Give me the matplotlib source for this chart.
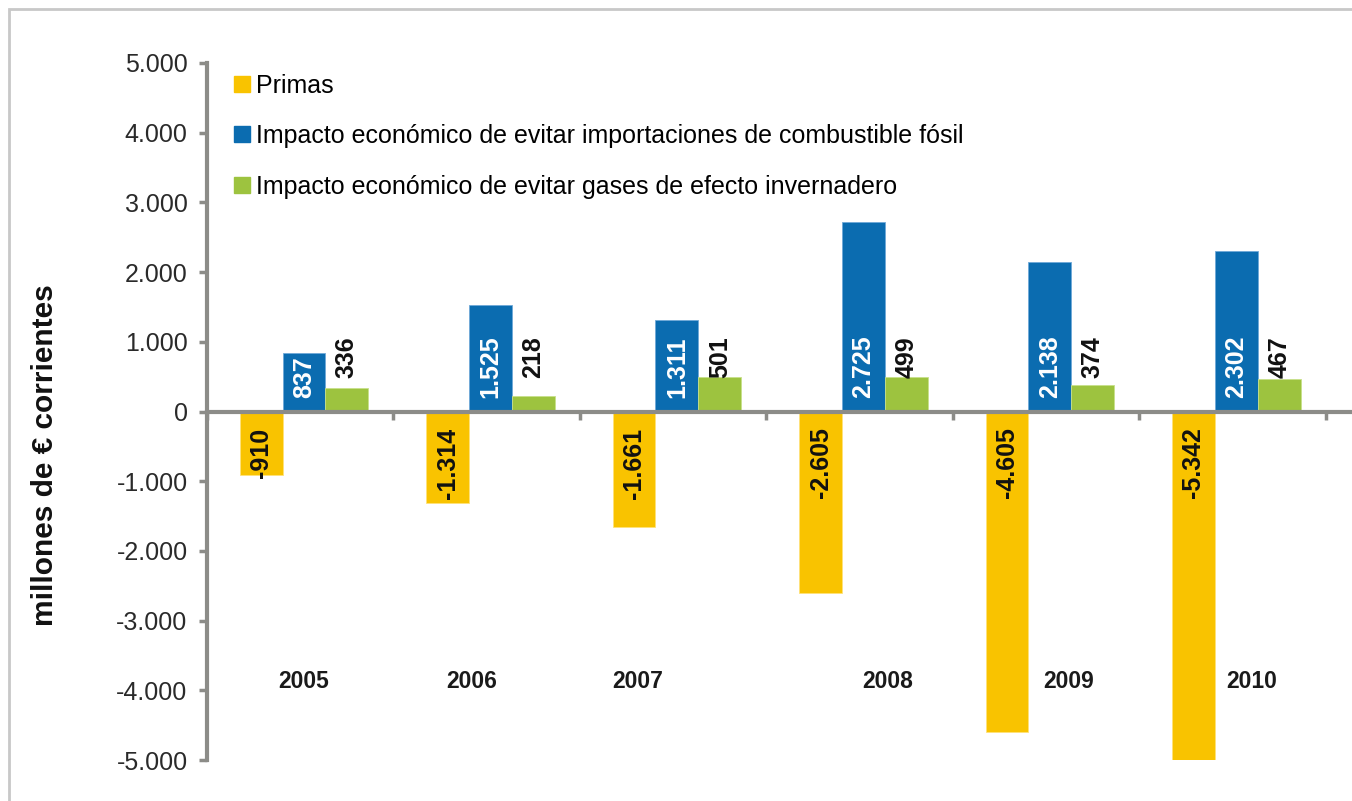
import matplotlib
matplotlib.use("Agg")
import matplotlib.pyplot as plt
from matplotlib.lines import Line2D
from matplotlib.patches import Rectangle
from matplotlib.ticker import FuncFormatter
import numpy as np

years = ["2005", "2006", "2007", "2008", "2009", "2010"]
primas = [-910, -1314, -1661, -2605, -4605, -5342]
importaciones = [837, 1525, 1311, 2725, 2138, 2302]
gases = [336, 218, 501, 499, 374, 467]

series_names = [
    "Primas",
    "Impacto económico de evitar importaciones de combustible fósil",
    "Impacto económico de evitar gases de efecto invernadero",
]
colors = ["#F9C300", "#0B6CB0", "#9DC33F"]
axis_gray = "#8C8C88"

# hand placed year captions (x in category units)
year_label_x = [0.52, 1.42, 2.31, 3.65, 4.62, 5.60]
year_label_y = -3870


def es_num(v):
    # Spanish style thousands separator
    s = f"{abs(int(round(v))):,}".replace(",", ".")
    return "-" + s if v < 0 else s


plt.rcParams["font.family"] = ["Liberation Sans", "DejaVu Sans"]

fig = plt.figure(figsize=(13.52, 8.01), dpi=100)
ax = fig.add_axes([207 / 1352, 1 - 760 / 801, 1 - 207 / 1352, (760 - 63) / 801])

x = np.arange(len(years)) + 0.52
w = 0.23
ax.bar(x - w, primas, w, color=colors[0], edgecolor="#FFE27A", linewidth=0.6, zorder=2)
ax.bar(x, importaciones, w, color=colors[1], edgecolor="#6FA8D8", linewidth=0.6, zorder=2)
ax.bar(x + w, gases, w, color=colors[2], edgecolor="#C8E08A", linewidth=0.6, zorder=2)

lab_kw = dict(rotation=90, ha="center", fontsize=18, fontweight="bold", zorder=4)
for i in range(len(years)):
    ax.text(x[i] - w, -230, es_num(primas[i]), va="top", color="#111111", **lab_kw)
    ax.text(x[i], 200, es_num(importaciones[i]), va="bottom", color="white", **lab_kw)
    ax.text(x[i] + w, 480, es_num(gases[i]), va="bottom", color="#111111", **lab_kw)
    ax.text(year_label_x[i], year_label_y, years[i], ha="center", va="center",
            fontsize=16.5, fontweight="bold", color="#1a1a1a")

ax.set_ylim(-5000, 5000)
ax.set_xlim(0, 6.14)
ax.set_yticks(np.arange(-5000, 5001, 1000))
ax.yaxis.set_major_formatter(FuncFormatter(lambda v, p: es_num(v)))
ax.set_xticks(np.arange(0, 7))
ax.set_xticklabels([])

for side in ["top", "right"]:
    ax.spines[side].set_visible(False)
ax.spines["left"].set_color(axis_gray)
ax.spines["left"].set_linewidth(3)
ax.spines["bottom"].set_position(("data", 0))
ax.spines["bottom"].set_color(axis_gray)
ax.spines["bottom"].set_linewidth(3)
ax.spines["bottom"].set_zorder(3)
ax.tick_params(axis="y", direction="out", length=6, width=2.5, color=axis_gray,
               labelsize=18, labelcolor="#2a2a2a", pad=8)
ax.tick_params(axis="x", direction="out", length=6, width=2.5, color=axis_gray)

handles = [Line2D([], [], marker="s", linestyle="", markersize=11, color=c) for c in colors]
ax.legend(handles, series_names, loc="upper left", bbox_to_anchor=(0.008, 1.01),
          frameon=False, fontsize=18, handlelength=0.7, handletextpad=0.2,
          labelspacing=1.06, borderaxespad=0.3, borderpad=0.4)

fig.text(45 / 1352, 1 - 455 / 801, "millones de € corrientes", rotation=90,
         ha="center", va="center", fontsize=21.5, fontweight="bold", color="#111111")

fig.patches.append(Rectangle((9 / 1352, -0.1), 1.2, 1 - 8.5 / 801 + 0.1,
                             transform=fig.transFigure, fill=False,
                             edgecolor="#C8C8C8", linewidth=2))

fig.savefig("out.png", dpi=100)
